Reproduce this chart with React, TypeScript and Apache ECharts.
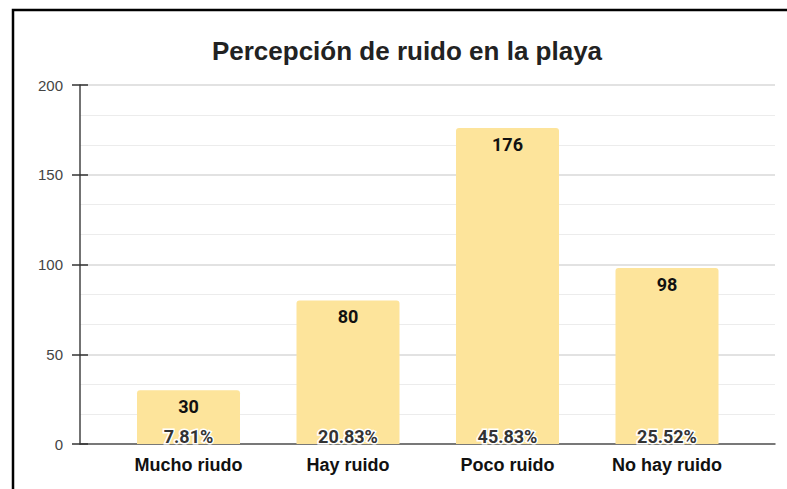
import React, { useEffect, useRef } from "react";
import * as echarts from "echarts";

const title = "Percepción de ruido en la playa";
const categories = ["Mucho riudo", "Hay ruido", "Poco ruido", "No hay ruido"];
const counts = [30, 80, 176, 98];
const yTicks = { min: 0, max: 200, interval: 50 };

export default function App() {
  const ref = useRef<HTMLDivElement>(null);
  useEffect(() => {
    if (!ref.current) return;
    const chart = echarts.init(ref.current, null, { renderer: "svg" });
    const total = counts.reduce((a, b) => a + b, 0);
    const pct = counts.map((v) => ((v / total) * 100).toFixed(2) + "%");
    const font = "'Liberation Sans', Arial, sans-serif";
    chart.setOption({
      animation: false,
      backgroundColor: "#fff",
      textStyle: { fontFamily: font },
      title: {
        text: title,
        left: 402,
        textAlign: "center",
        top: 33,
        textStyle: { fontSize: 26, fontWeight: "bold", color: "#222", fontFamily: font },
      },
      graphic: [
        {
          type: "rect",
          shape: { x: 13, y: 10, width: 800, height: 520 },
          style: { fill: "none", stroke: "#000", lineWidth: 2.5 },
          silent: true,
        },
      ],
      grid: [
        { left: 80, right: 12, top: 85, bottom: 45 },
        { left: 108.75, right: 40.25, top: 85, bottom: 45 },
      ],
      xAxis: [
        {
          gridIndex: 0,
          type: "value",
          min: 0,
          max: 1,
          show: true,
          axisLine: { show: true, onZero: false, lineStyle: { color: "#555", width: 1.5 } },
          axisTick: { show: false },
          axisLabel: { show: false },
          splitLine: { show: false },
        },
        {
          gridIndex: 1,
          type: "category",
          data: categories,
          axisLine: { show: false },
          axisTick: { show: false },
          axisLabel: {
            color: "#111",
            fontSize: 18,
            fontWeight: "bold",
            margin: 12,
            fontFamily: font,
          },
        },
      ],
      yAxis: [
        {
          gridIndex: 0,
          type: "value",
          ...yTicks,
          axisLine: { show: true, lineStyle: { color: "#444", width: 1.5 } },
          axisTick: { show: true, length: 8, lineStyle: { color: "#333", width: 1.5 } },
          axisLabel: { color: "#444", fontSize: 15, margin: 17, fontFamily: font },
          splitLine: { show: true, lineStyle: { color: "#d9d9d9", width: 1.5 } },
          minorTick: { show: false, splitNumber: 3 },
          minorSplitLine: { show: true, lineStyle: { color: "#ececec", width: 1 } },
        },
        {
          gridIndex: 0,
          type: "value",
          ...yTicks,
          position: "left",
          axisLine: { show: false },
          axisTick: { show: true, inside: true, length: 8, lineStyle: { color: "#333", width: 1.5 } },
          axisLabel: { show: false },
          splitLine: { show: false },
        },
        {
          gridIndex: 1,
          type: "value",
          ...yTicks,
          show: false,
        },
      ],
      series: [
        {
          type: "bar",
          xAxisIndex: 1,
          yAxisIndex: 2,
          data: counts,
          barWidth: 103,
          itemStyle: { color: "#fde49b", borderRadius: [3, 3, 0, 0] },
          label: {
            show: true,
            position: "insideTop",
            distance: 7,
            color: "#111",
            fontSize: 18,
            fontWeight: "bold",
            fontFamily: "Roboto, Arial, sans-serif",
          },
          z: 3,
        },
        {
          type: "bar",
          xAxisIndex: 1,
          yAxisIndex: 2,
          data: counts,
          barWidth: 103,
          barGap: "-100%",
          itemStyle: { color: "rgba(0,0,0,0)" },
          label: {
            show: true,
            position: "insideBottom",
            distance: -1,
            formatter: (p: any) => pct[p.dataIndex],
            color: "#333",
            fontSize: 18,
            fontWeight: "bold",
            textBorderColor: "#fff",
            textBorderWidth: 3,
            fontFamily: "Roboto, Arial, sans-serif",
          },
          z: 4,
        },
      ],
    });
    return () => chart.dispose();
  }, []);
  return (
    <div
      ref={ref}
      style={{ position: "fixed", left: 0, top: 0, width: 787, height: 489 }}
    />
  );
}
